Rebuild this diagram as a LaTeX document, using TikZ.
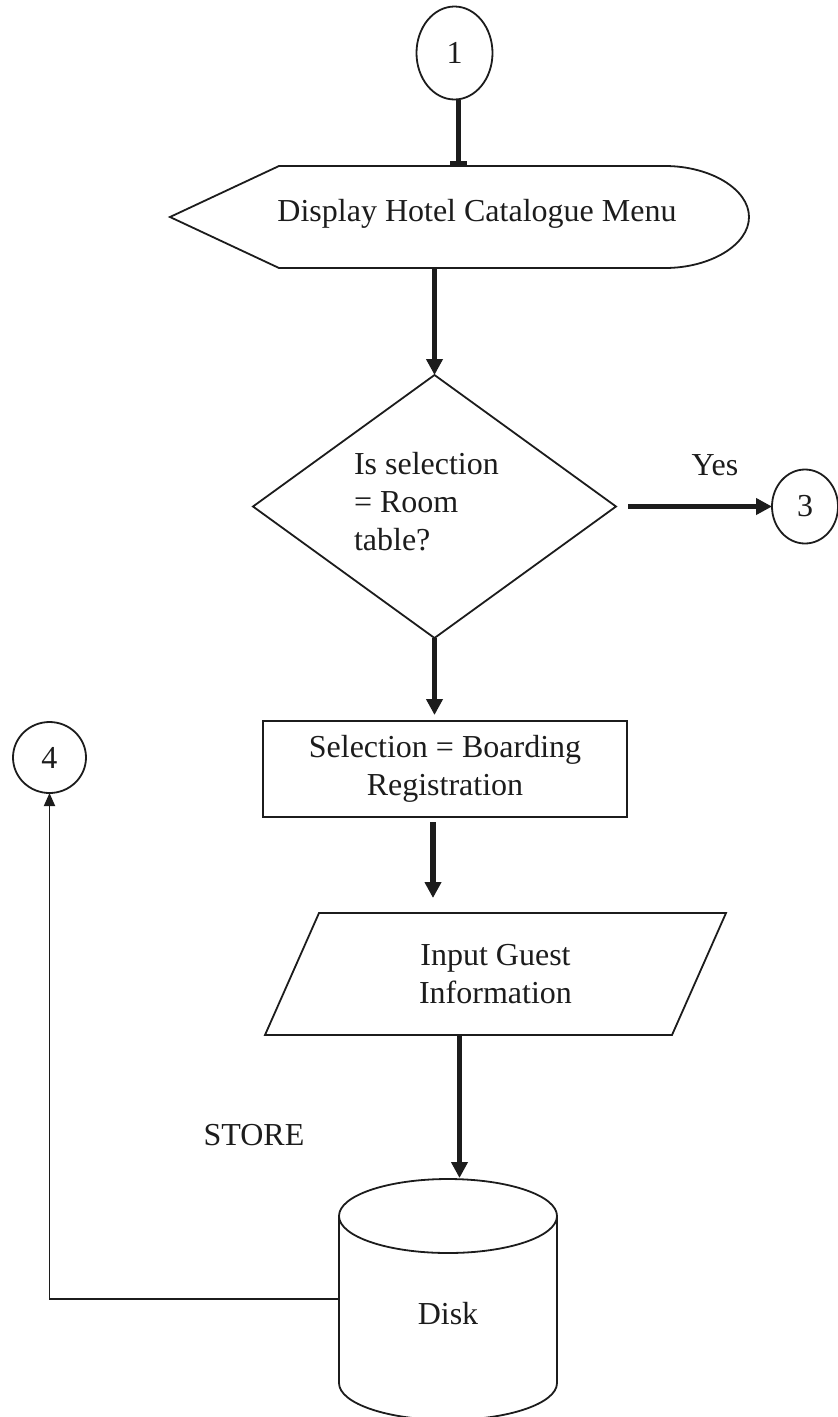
\documentclass[tikz,border=0pt]{standalone}
\usepackage{fontspec}
\setmainfont{Liberation Serif}
\usetikzlibrary{shapes.geometric,arrows.meta,calc}
\definecolor{ink}{HTML}{1C1C1C}
\begin{document}
\begin{tikzpicture}[x=1pt,y=-1pt,
  every node/.style={font=\fontsize{32}{38}\selectfont, text=ink, inner sep=0pt, outer sep=0pt},
  shp/.style={draw=ink, line width=1.8pt, line join=miter},
  conn/.style={draw=ink, line width=5.5pt, -{Triangle[width=16pt,length=16pt]}},
  thinconn/.style={draw=ink, line width=1.8pt, -{Triangle[width=11pt,length=13pt]}},
  conncirc/.style={shp, ellipse}
]
\useasboundingbox (0,0) rectangle (838,1417);

% connector 1
\node[conncirc, minimum width=76pt, minimum height=93pt] (c1) at (454.5,53) {1};

% display shape
\node[minimum width=579pt, minimum height=102pt] (disp) at (459.5,217) {};
\draw[shp] (disp.west) -- (279,166) -- (665,166) .. controls (710,166) and (749,189) .. (749,217)
  .. controls (749,245) and (710,268) .. (665,268) -- (279,268) -- cycle;
\node[anchor=base] (disptxt) at (477,221) {Display Hotel Catalogue Menu};

\draw[conn, -{Rectangle[width=17pt,length=5pt]}] ([xshift=4pt]c1.south) -- ([xshift=4pt]c1.south |- disp.north);

% decision
\node[shp, diamond, minimum width=363pt, minimum height=263pt] (dia) at (434.5,506.5) {};
\node[align=left, anchor=west] (diatxt) at (354,502) {Is selection\\= Room\\table?};
\draw[conn] (disp.south -| dia.north) -- (dia.north);

% connector 3
\node[conncirc, minimum width=66pt, minimum height=74pt] (c3) at (805,506.5) {3};
\draw[conn, shorten <=12pt] (dia.east) -- (c3.west);
\node[anchor=base] (yes) at (715,475) {Yes};

% process
\node[shp, minimum width=364pt, minimum height=96pt, align=center] (sel) at (445,769) {Selection = Boarding\\Registration};
\draw[conn, shorten >=6pt] (dia.south) -- (dia.south |- sel.north);

% input
\node[minimum width=461pt, minimum height=122pt, align=center] (para) at (495.5,974) {Input Guest\\Information};
\draw[shp] ([xshift=54pt]para.north west) -- (para.north east) -- ([xshift=-54pt]para.south east) -- (para.south west) -- cycle;
\draw[conn, shorten <=5pt, shorten >=15pt] ([xshift=-12pt]sel.south) -- ([xshift=-12pt]sel.south |- para.north);

% disk
\node[minimum width=218pt, minimum height=242pt] (disk) at (448,1299) {};
\draw[shp] (339,1216) -- (339,1383) .. controls (339,1403.4) and (387.8,1420) .. (448,1420)
  .. controls (508.2,1420) and (557,1403.4) .. (557,1383) -- (557,1216);
\draw[shp] (448,1216) ellipse [x radius=109, y radius=37];
\node[anchor=base] (disktxt) at (448,1324) {Disk};
\draw[conn] ([xshift=-36pt]para.south) -- ([xshift=-36pt]para.south |- disk.north);

\node[anchor=base] (store) at (254,1145) {STORE};

% connector 4
\node[conncirc, minimum width=73pt, minimum height=71pt] (c4) at (49.5,757.5) {4};
\draw[thinconn] (disk.west) -| (c4.south);
\end{tikzpicture}
\end{document}
